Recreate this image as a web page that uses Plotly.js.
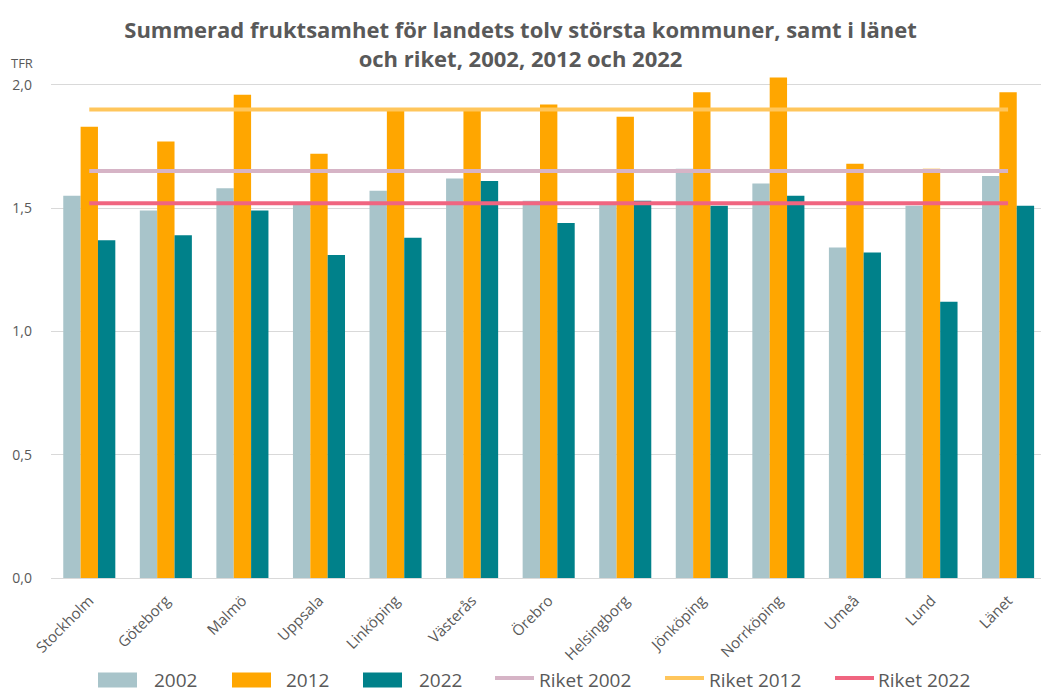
<!DOCTYPE html>
<html>
<head>
<meta charset="utf-8">
<script src="https://cdn.plot.ly/plotly-3.0.1.min.js"></script>
<style>html,body{margin:0;padding:0;background:#fff;}#chart{width:1041px;height:692px;}</style>
</head>
<body>
<div id="chart"></div>
<script>
const categories = ["Stockholm","Göteborg","Malmö","Uppsala","Linköping","Västerås","Örebro","Helsingborg","Jönköping","Norrköping","Umeå","Lund","Länet"];
const tfr2002 = [1.55,1.49,1.58,1.52,1.57,1.62,1.53,1.52,1.66,1.60,1.34,1.51,1.63];
const tfr2012 = [1.83,1.77,1.96,1.72,1.90,1.90,1.92,1.87,1.97,2.03,1.68,1.66,1.97];
const tfr2022 = [1.37,1.39,1.49,1.31,1.38,1.61,1.44,1.53,1.51,1.55,1.32,1.12,1.51];
const riket2002 = 1.65;
const riket2012 = 1.90;
const riket2022 = 1.52;
const seriesNames = ["2002","2012","2022","Riket 2002","Riket 2012","Riket 2022"];
const seriesColors = ["#a8c4ca","#ffa600","#00818a","#d6b4c6","#ffc65c","#f06580"];

const font = "Open Sans, Noto Sans, sans-serif";
const grey = "#595959";

// plot area in pixels (for placing the hand-drawn legend)
const M = {l:51, r:0, t:70, b:114};
const W = 1041, H = 692;
const pw = W - M.l - M.r, ph = H - M.t - M.b;
const px = x => (x - M.l) / pw;
const py = y => (H - M.b - y) / ph;

function barTrace(i, y){
  return {type:"bar", name:seriesNames[i], x:categories, y:y,
          marker:{color:seriesColors[i], line:{width:0}}, showlegend:false};
}
function lineTrace(i, v){
  return {type:"scatter", mode:"lines", name:seriesNames[i], x:categories, y:categories.map(()=>v),
          line:{color:seriesColors[i], width:4}, showlegend:false};
}

const data = [
  barTrace(0, tfr2002), barTrace(1, tfr2012), barTrace(2, tfr2022),
  lineTrace(3, riket2002), lineTrace(4, riket2012), lineTrace(5, riket2022)
];

// legend layout (pixel positions of the symbol start and text start)
const legendSymX = [98, 232, 363, 495, 665, 835];
const legendTxtX = [152, 284, 417, 537, 707, 876];
const legendY = 680;
const shapes = [], annotations = [];
seriesNames.forEach((n, i) => {
  if (i < 3) {
    shapes.push({type:"rect", xref:"paper", yref:"paper", x0:px(legendSymX[i]), x1:px(legendSymX[i]+39),
                 y0:py(legendY-7.5), y1:py(legendY+7.5), fillcolor:seriesColors[i], line:{width:0}});
  } else {
    shapes.push({type:"line", xref:"paper", yref:"paper", x0:px(legendSymX[i]), x1:px(legendSymX[i]+39),
                 y0:py(legendY-2), y1:py(legendY-2), line:{color:seriesColors[i], width:4}});
  }
  annotations.push({text:n, xref:"paper", yref:"paper", x:px(legendTxtX[i]), xanchor:"left",
                    y:py(legendY), yanchor:"middle", showarrow:false, font:{size:19, color:grey}});
});
annotations.push({text:"TFR", xref:"paper", yref:"paper", x:px(9), xanchor:"left", y:py(63), yanchor:"middle",
                  showarrow:false, font:{size:13, color:grey}});

const layout = {
  width:W, height:H,
  paper_bgcolor:"#ffffff", plot_bgcolor:"#ffffff",
  margin:M,
  separators:", ",
  font:{family:font, color:grey},
  title:{text:"<b>Summerad fruktsamhet för landets tolv största kommuner, samt i länet<br>och riket, 2002, 2012 och 2022</b>",
         font:{family:font, size:22, color:grey}, x:0.5, xanchor:"center", y:1-38/H, yanchor:"middle"},
  barmode:"group", bargap:0.32, bargroupgap:0,
  xaxis:{range:[-0.5,12.43], tickangle:-45, tickfont:{size:15, color:grey}, showgrid:false,
         showline:false, zeroline:false, ticks:"", ticklabelstandoff:10},
  yaxis:{range:[0,2.06], tickvals:[0,0.5,1,1.5,2], tickformat:".1f", tickfont:{size:14, color:grey},
         showgrid:true, gridcolor:"#d9d9d9", gridwidth:1, zeroline:true, zerolinecolor:"#d9d9d9",
         showline:false, ticks:"", ticklabelstandoff:18},
  showlegend:false,
  shapes:shapes,
  annotations:annotations
};

Plotly.newPlot("chart", data, layout, {displayModeBar:false, staticPlot:true});
</script>
</body>
</html>
